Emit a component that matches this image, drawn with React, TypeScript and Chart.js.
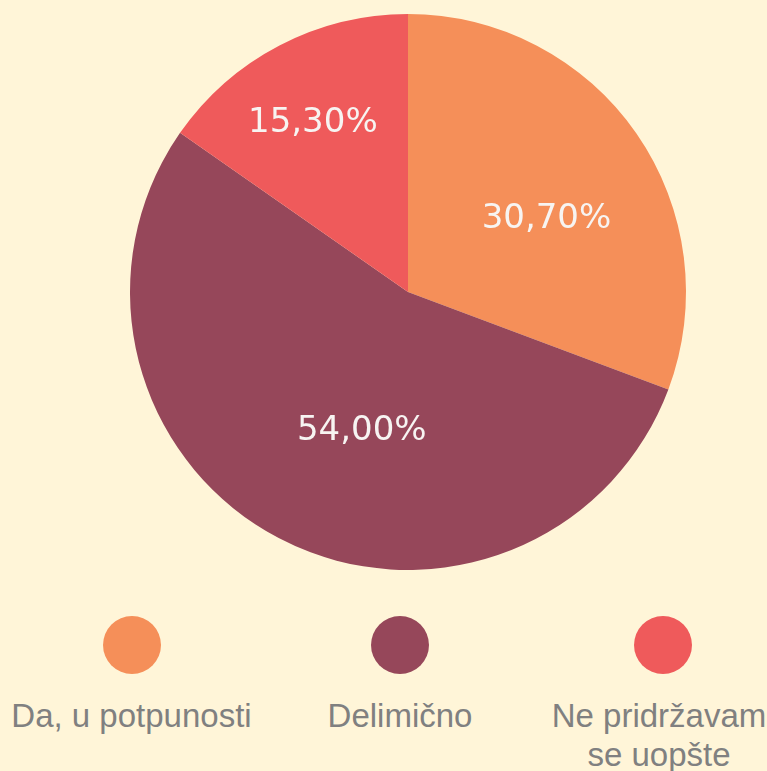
import React, { useEffect, useRef } from "react";
import { Chart, registerables } from "chart.js";

Chart.register(...registerables);

const categories: string[] = ["Da, u potpunosti", "Delimično", "Ne pridržavam se uopšte"];
const legendLines: string[][] = [["Da, u potpunosti"], ["Delimično"], ["Ne pridržavam", "se uopšte"]];
const values: number[] = [30.7, 54.0, 15.3];
const colors: string[] = ["#F58F59", "#96475A", "#EF5A5B"];
const labelTexts: string[] = ["30,70%", "54,00%", "15,30%"];

// presentational label placement: [angle offset deg, radius fraction]
const labelPlacement: [number, number][] = [[6, 0.568], [-9, 0.518], [-1.5, 0.705]];

const BG = "#FFF5D8";

const labelPlugin = {
  id: "sliceLabels",
  afterDatasetsDraw(chart: any) {
    const ctx = chart.ctx;
    const meta = chart.getDatasetMeta(0);
    ctx.save();
    ctx.font = "34px 'DejaVu Sans'";
    ctx.fillStyle = "#F7F4F2";
    ctx.textAlign = "center";
    ctx.textBaseline = "middle";
    meta.data.forEach((arc: any, i: number) => {
      const p = arc.getProps(["x", "y", "startAngle", "endAngle", "outerRadius"], true);
      const mid = (p.startAngle + p.endAngle) / 2 + (labelPlacement[i][0] * Math.PI) / 180;
      const r = p.outerRadius * labelPlacement[i][1];
      ctx.fillText(labelTexts[i], p.x + Math.cos(mid) * r, p.y + Math.sin(mid) * r + 3);
    });
    ctx.restore();
  },
};

function PieChart() {
  const ref = useRef<HTMLCanvasElement | null>(null);
  useEffect(() => {
    if (!ref.current) return;
    const chart = new Chart(ref.current, {
      type: "pie",
      data: {
        labels: categories,
        datasets: [
          {
            data: values,
            backgroundColor: colors,
            borderWidth: 0,
          },
        ],
      },
      options: {
        animation: false,
        responsive: false,
        maintainAspectRatio: false,
        layout: { padding: { left: 49, right: 0, top: 14, bottom: 14 } },
        plugins: { legend: { display: false }, tooltip: { enabled: false } },
      },
      plugins: [labelPlugin],
    });
    return () => chart.destroy();
  }, []);
  return <canvas ref={ref} width={767} height={584} style={{ position: "absolute", left: 0, top: 0, width: 767, height: 584 }} />;
}

const dotCenters = [132, 400, 663];
const textCenters = [131.5, 400, 659];

export default function App() {
  return (
    <div style={{ position: "fixed", left: 0, top: 0, width: 767, height: 771, background: BG, overflow: "hidden" }}>
      <PieChart />
      {categories.map((c, i) => (
        <React.Fragment key={c}>
          <div
            style={{
              position: "absolute",
              left: dotCenters[i] - 29,
              top: 645 - 29,
              width: 58,
              height: 58,
              borderRadius: "50%",
              background: colors[i],
            }}
          />
          <div
            style={{
              position: "absolute",
              left: textCenters[i] - 150,
              top: 696,
              width: 300,
              textAlign: "center",
              fontFamily: "'Liberation Sans Narrow', 'Liberation Sans', sans-serif",
              fontSize: 33,
              lineHeight: "39px",
              color: "#808080",
              whiteSpace: "nowrap",
            }}
          >
            {legendLines[i].map((l) => (
              <div key={l}>{l}</div>
            ))}
          </div>
        </React.Fragment>
      ))}
    </div>
  );
}
